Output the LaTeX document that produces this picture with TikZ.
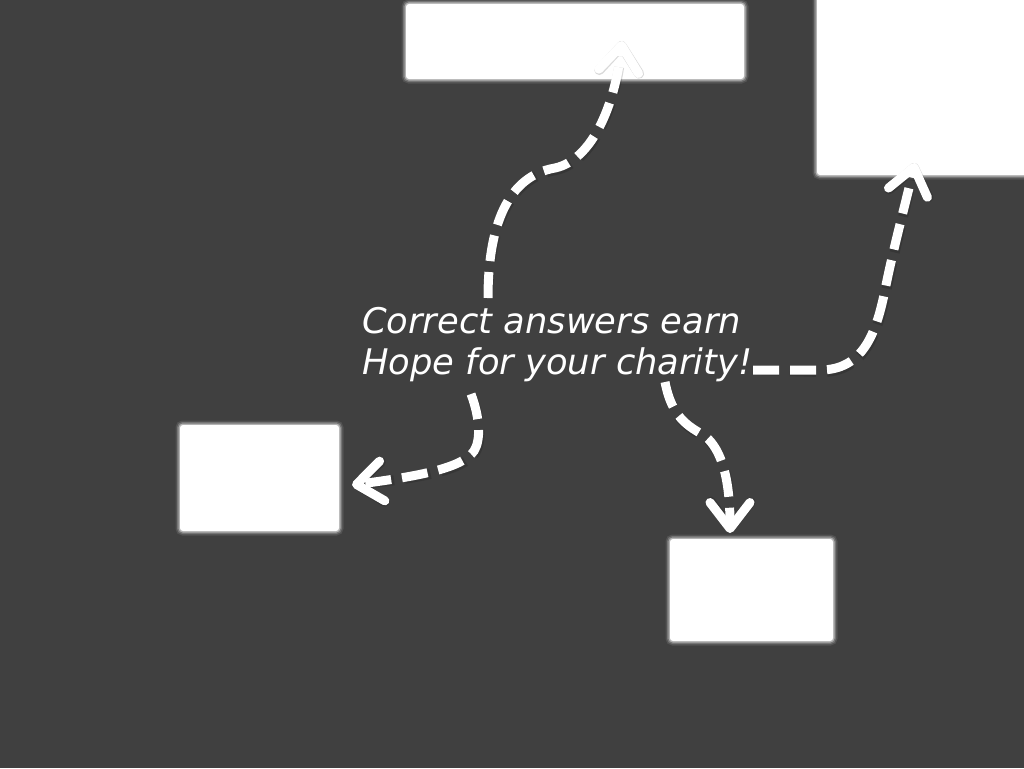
\documentclass[tikz,border=0pt]{standalone}
\usepackage{fontspec}
\setmainfont{DejaVu Sans}
\usetikzlibrary{arrows.meta}
\definecolor{bg}{HTML}{404040}
\tikzset{
  card/.style={fill=white, rounded corners=3pt, inner sep=0pt, draw=none,
    preaction={draw=white, line width=9pt, opacity=0.10},
    preaction={draw=white, line width=6pt, opacity=0.20},
    preaction={draw=white, line width=3pt, opacity=0.45}},
  flow/.style={draw=white, line width=9pt, dash pattern=on 26pt off 11pt,
    -{Straight Barb[length=26pt, width=40pt, round]}},
  shade/.style={draw=black, opacity=0.15, line width=10pt, dash pattern=on 26pt off 11pt,
    -{Straight Barb[length=26pt, width=40pt, round]}},
  label/.style={text=white, font=\fontsize{35.3}{41}\selectfont\itshape, inner sep=0pt, anchor=base west}
}
\begin{document}
\begin{tikzpicture}[x=1pt, y=-1pt]
\useasboundingbox (0,0) rectangle (1024,768);
\clip (0,0) rectangle (1024,768);
\fill[bg] (0,0) rectangle (1024,768);

% cards
\node[card, minimum width=338pt, minimum height=75pt] (r1) at (575,41.5) {};
\node[card, minimum width=216pt, minimum height=180pt] (r2) at (925,85) {};
\node[card, minimum width=159pt, minimum height=106pt] (r3) at (259.5,478) {};
\node[card, minimum width=163pt, minimum height=102pt] (r4) at (751.5,590) {};

% text
\node[label] (t1) at (362,333) {Correct answers earn};
\node[label] (t2) at (362,374) {Hope for your charity!};

% coordinates
\coordinate (a1s) at (488,298);
\coordinate (a1e) at (622,41);
\coordinate (a2s) at (753,370);
\coordinate (a2e) at (915,163);
\coordinate (a3s) at (471,394);
\coordinate (a3e) at (352,485);
\coordinate (a4s) at (665,382);
\coordinate (a4e) at (730,533);

% shadows
\begin{scope}[shift={(1,2)}]
\draw[shade] (a1s) .. controls (488,225) and (508,176) .. (555,168)
  .. controls (592,160) and (615,105) .. (a1e);
\draw[shade] (a2s) -- (820,370) .. controls (862,370) and (876,335) .. (885,290)
  .. controls (893,250) and (905,205) .. (a2e);
\draw[shade] (a3s) .. controls (480,418) and (481,440) .. (474,451)
  .. controls (462,468) and (420,476) .. (a3e);
\draw[shade] (a4s) .. controls (672,418) and (688,426) .. (705,436)
  .. controls (722,450) and (730,480) .. (a4e);
\end{scope}

% connectors
\draw[flow] (a1s) .. controls (488,225) and (508,176) .. (555,168)
  .. controls (592,160) and (615,105) .. (a1e);
\draw[flow] (a2s) -- (820,370) .. controls (862,370) and (876,335) .. (885,290)
  .. controls (893,250) and (905,205) .. (a2e);
\draw[flow] (a3s) .. controls (480,418) and (481,440) .. (474,451)
  .. controls (462,468) and (420,476) .. (a3e);
\draw[flow] (a4s) .. controls (672,418) and (688,426) .. (705,436)
  .. controls (722,450) and (730,480) .. (a4e);
\end{tikzpicture}
\end{document}
